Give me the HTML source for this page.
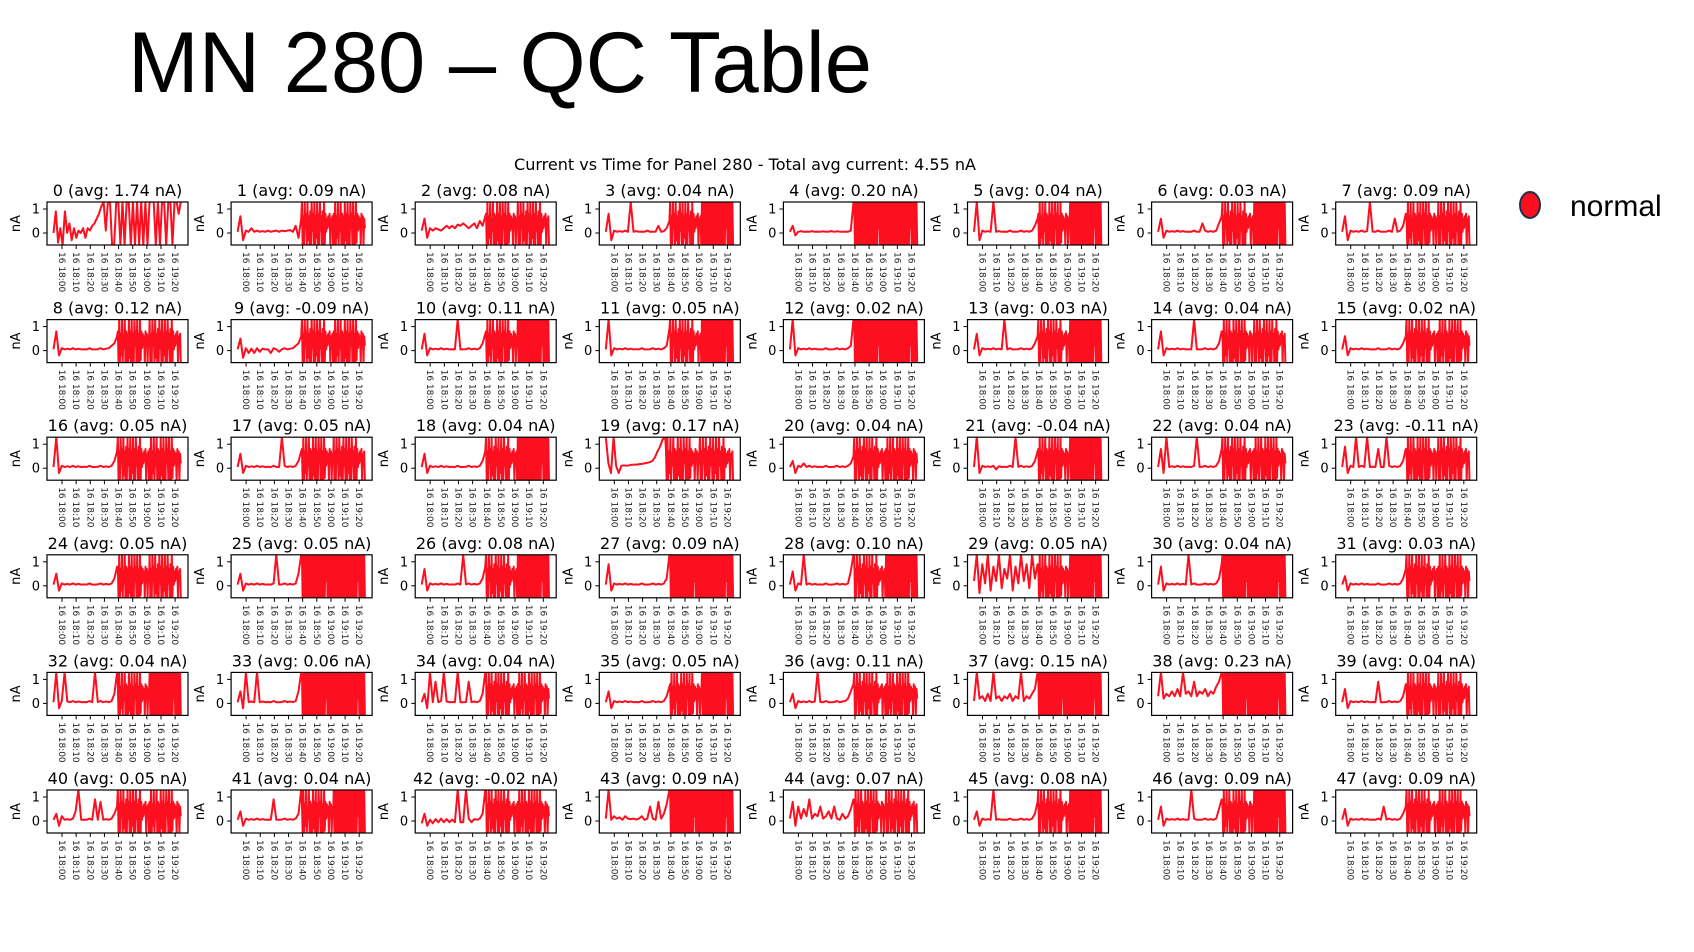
<!DOCTYPE html>
<html><head><meta charset="utf-8"><style>
html,body{margin:0;padding:0;background:#fff;width:1694px;height:952px;overflow:hidden}
svg{display:block}
</style></head><body>
<svg id="chart" width="1694" height="952" xmlns="http://www.w3.org/2000/svg">
<text x="128" y="92" font-family="Liberation Sans, sans-serif" font-size="86" textLength="744" lengthAdjust="spacingAndGlyphs">MN 280 – QC Table</text>
<text x="745" y="170" text-anchor="middle" font-family="DejaVu Sans, sans-serif" font-size="16" textLength="462" lengthAdjust="spacingAndGlyphs">Current vs Time for Panel 280 - Total avg current: 4.55 nA</text>
<g>
<ellipse cx="1530" cy="205" rx="10" ry="13" fill="#fc0f1f" stroke="#1f3050" stroke-width="2"/>
<text x="1570" y="216" font-family="Liberation Sans, sans-serif" font-size="30">normal</text>
</g>
<g id="panels"></g>
</svg>
<script>
const avgs = ["1.74","0.09","0.08","0.04","0.20","0.04","0.03","0.09","0.12","-0.09","0.11","0.05","0.02","0.03","0.04","0.02","0.05","0.05","0.04","0.17","0.04","-0.04","0.04","-0.11","0.05","0.05","0.08","0.09","0.10","0.05","0.04","0.03","0.04","0.06","0.04","0.05","0.11","0.15","0.23","0.04","0.05","0.04","-0.02","0.09","0.07","0.08","0.09","0.09"];
const tickLabels = ["16 18:00","16 18:10","16 18:20","16 18:30","16 18:40","16 18:50","16 19:00","16 19:10","16 19:20"];
const tickMinutes = [0,10,20,30,40,50,60,70,80];
const yTicks = [1,0];
const tStart = -6, tSwitch = 39, tEnd = 84;
const baseline = [
"0,0.9,-0.4,0.2,-0.5,0.9,0,0.4,-0.3,0.2,-0.2,0.1,0,0.2,-0.2,0.2,0.1,0.3,0.4,0.6,0.8,1.1,1.3,0.1",
"0.05,0.7,-0.3,0.1,0.05,0.2,0.05,0.1,0.05,0.08,0.05,0.1,0.05,0.08,0.1,0.05,0.1,0.08,0.1,0.12,0.05,0.3,-0.2,0.6",
"0.1,0.6,-0.2,0.2,0.1,0.2,0.15,0.1,0.2,0.3,0.2,0.3,0.2,0.35,0.3,0.4,0.3,0.2,0.3,0.4,0.2,0.5,0.3,0.7",
"0.05,0.8,-0.3,0.1,0.05,0.08,0.05,0.1,0.05,1.3,0.05,0.08,0.05,0.06,0.05,0.1,0.05,0.05,0.06,0.3,0.05,0.08,0.2,0.5",
"0.05,0.3,-0.1,0.05,0.08,0.05,0.06,0.05,0.08,0.05,0.06,0.05,0.07,0.05,0.06,0.08,0.05,0.07,0.06,0.05,0.06,0.05,0.1,1.3",
"0.05,1.3,-0.3,0.1,0.05,0.08,0.05,1.3,0.05,0.08,0.05,0.06,0.05,0.1,0.05,0.05,0.06,0.1,0.05,0.08,0.05,0.1,0.3,0.6",
"0.05,0.6,-0.2,0.1,0.05,0.08,0.05,0.1,0.05,0.08,0.05,0.06,0.05,0.1,0.05,0.05,0.4,0.1,0.05,0.08,0.05,0.1,0.4,0.7",
"0.05,0.7,-0.3,0.1,0.05,0.08,0.05,0.1,0.05,0.08,1.3,0.06,0.05,0.1,0.05,0.05,0.06,0.1,0.05,0.6,0.05,0.1,0.3,0.8",
"0.05,0.8,-0.2,0.1,0.05,0.08,0.05,0.1,0.05,0.08,0.05,0.06,0.05,0.1,0.05,0.05,0.06,0.1,0.05,0.08,0.1,0.2,0.3,0.6",
"0.05,0.5,-0.3,0.1,-0.1,0.08,-0.1,0.1,-0.05,0.08,0.05,0.06,-0.1,0.1,0.05,-0.05,0.06,0.1,0.05,0.08,0.1,0.2,0.3,0.6",
"0.05,0.7,-0.2,0.1,0.05,0.08,0.05,0.1,0.05,0.08,0.05,0.06,0.05,1.3,0.05,0.05,0.06,0.1,0.05,0.08,0.05,0.1,0.3,0.7",
"0.05,1.3,-0.2,0.1,0.05,0.08,0.05,0.1,0.05,0.08,0.05,0.06,0.05,0.1,0.05,0.05,0.06,0.1,0.05,0.08,0.05,0.1,0.2,0.9",
"0.05,1.3,-0.2,0.1,0.05,0.08,0.05,0.1,0.05,0.08,0.05,0.06,0.05,0.1,0.05,0.05,0.06,0.1,0.05,0.08,0.05,0.1,0.2,1.3",
"0.05,0.7,-0.2,0.1,0.05,0.08,0.05,0.1,0.05,0.08,0.05,1.3,0.05,0.1,0.05,0.05,0.06,0.1,0.05,0.08,0.05,0.1,0.3,0.6",
"0.05,0.8,-0.2,0.1,0.05,0.08,0.05,0.1,0.05,0.08,0.05,0.06,0.05,1.3,0.05,0.05,0.06,0.1,0.05,0.08,0.05,0.1,0.3,0.8",
"0.05,0.6,-0.2,0.1,0.05,0.08,0.05,0.1,0.05,0.08,0.05,0.06,0.05,0.1,0.05,0.05,0.06,0.1,0.05,0.08,0.05,0.1,0.3,0.6",
"0.05,1.3,-0.2,0.1,0.05,0.08,0.05,0.1,0.05,0.08,0.05,0.06,0.05,0.1,0.05,0.05,0.06,0.1,0.05,0.08,0.05,0.1,0.3,0.7",
"0.05,0.6,-0.2,0.1,0.05,0.08,0.05,0.1,0.05,0.08,0.05,0.06,0.05,0.1,0.05,0.05,1.3,0.1,0.05,0.08,0.05,0.1,0.3,0.7",
"0.05,0.6,-0.2,0.1,0.05,0.08,0.05,0.1,0.05,0.08,0.05,0.06,0.05,0.1,0.05,0.05,0.06,0.1,0.05,0.08,0.05,0.1,0.3,0.7",
"1.3,0.2,-0.2,1.3,0.1,-0.2,0.1,0.12,0.1,0.12,0.14,0.15,0.15,0.17,0.18,0.2,0.22,0.25,0.3,0.45,0.7,0.9,1.2,1.3",
"0.05,0.3,-0.2,0.1,0.05,0.2,0.05,0.1,0.05,0.08,0.05,0.06,0.05,0.1,0.05,0.05,0.06,0.1,0.05,0.08,0.05,0.1,0.2,0.5",
"0.05,1.3,-0.2,0.1,0.05,0.08,0.05,0.1,-0.05,0.08,0.05,0.06,0.05,0.1,0.05,1.3,0.06,0.1,0.05,0.08,0.05,0.1,0.3,0.7",
"0.05,0.8,-0.2,1.3,0.05,0.08,0.05,0.1,0.05,0.08,0.05,0.06,0.05,0.1,1.3,0.05,0.06,0.1,0.05,0.08,0.05,0.1,0.3,0.8",
"0.05,0.9,-0.2,0.1,0.05,1.3,0.05,0.1,0.05,1.3,0.05,0.06,0.05,0.8,0.05,0.05,1.3,0.1,0.05,0.08,0.05,0.1,0.3,0.8",
"0.05,0.5,-0.2,0.1,0.05,0.08,0.05,0.1,0.05,0.08,0.05,0.06,0.05,0.1,0.05,0.05,0.06,0.1,0.05,0.08,0.05,0.1,0.3,0.8",
"0.05,0.5,-0.2,0.1,0.05,0.08,0.05,0.1,0.05,0.08,0.05,0.06,0.05,0.1,1.3,0.05,0.06,0.1,0.05,0.08,0.05,0.1,0.5,1.3",
"0.05,0.7,-0.2,0.1,0.05,0.08,0.05,0.1,0.05,0.08,0.05,0.06,0.05,0.1,0.05,1.3,0.06,0.1,0.05,0.08,0.05,0.1,0.3,0.8",
"0.05,0.9,-0.2,0.1,0.05,0.08,0.05,0.1,0.05,0.08,0.05,0.06,0.05,0.1,0.05,0.05,0.06,0.1,0.05,0.08,0.05,0.1,0.3,1.3",
"0.05,0.6,-0.2,0.1,0.05,1.3,0.05,0.1,0.05,0.08,0.05,0.06,0.05,0.1,0.05,0.05,0.06,0.1,0.05,0.08,0.05,0.1,0.6,1.3",
"0.2,1.3,-0.3,0.9,0.1,1.3,-0.2,0.8,0.2,1.3,-0.1,0.7,0.3,1.3,-0.2,0.8,0.1,1.3,0.2,0.9,-0.1,1.3,0.3,0.9",
"0.05,0.8,-0.2,0.1,0.05,0.08,0.05,0.1,0.05,0.08,0.05,1.3,0.05,0.1,0.05,0.05,0.06,0.1,0.05,0.08,0.05,0.1,0.3,0.9",
"0.05,0.4,-0.2,0.1,0.05,0.08,0.05,0.1,0.05,0.08,0.05,0.06,0.05,0.1,0.05,0.05,0.06,0.1,0.05,0.08,0.05,0.1,0.3,0.7",
"0.05,1.3,-0.2,0.1,1.3,0.08,0.05,0.1,0.05,0.08,0.05,0.06,0.05,0.1,0.05,1.3,0.06,0.1,0.05,0.08,0.05,0.1,0.4,1.3",
"0.05,0.5,-0.2,1.3,0.05,0.08,0.05,1.3,0.05,0.08,0.05,0.06,0.05,0.1,0.05,0.05,0.06,0.1,0.05,0.08,0.05,0.1,0.5,1.3",
"0.05,0.4,-0.2,1.3,0.05,0.9,0.05,0.1,1.3,0.08,0.05,0.06,0.05,1.3,0.05,0.05,0.06,0.9,0.05,0.08,0.05,0.1,0.4,1.3",
"0.05,0.5,-0.2,0.1,0.05,0.08,0.05,0.1,0.05,0.08,0.05,0.06,0.05,0.1,0.05,0.05,0.06,0.1,0.05,0.08,0.05,0.1,0.3,0.7",
"0.05,0.4,-0.2,0.1,0.05,0.08,0.05,0.1,0.05,0.08,1.3,0.06,0.05,0.1,0.05,0.05,0.06,0.1,0.05,0.08,0.1,0.2,0.5,0.8",
"0.1,1.3,0.2,0.3,0.1,0.4,0.1,1.3,0.2,0.3,0.1,0.3,0.2,0.4,0.1,0.3,0.2,1.3,0.1,0.3,0.2,0.4,0.6,1.3",
"0.3,1.3,0.2,0.4,0.3,0.5,0.3,0.6,0.3,1.3,0.4,0.5,0.3,0.9,0.3,0.5,0.4,0.6,0.3,0.5,0.4,0.7,0.9,1.3",
"0.05,0.6,-0.2,0.1,0.05,0.08,0.05,0.1,0.05,0.08,0.05,0.06,0.05,0.9,0.05,0.05,0.06,0.1,0.05,0.08,0.05,0.1,0.3,0.8",
"0.05,0.3,-0.2,0.2,0.05,0.08,0.05,0.1,0.4,1.3,0.05,0.06,0.05,0.1,0.05,0.9,0.05,0.8,0.05,0.08,0.05,0.1,0.3,0.6",
"0.05,0.4,-0.2,0.1,0.05,0.08,0.05,0.1,0.05,0.08,0.05,0.06,0.05,0.9,0.05,0.05,0.06,0.1,0.05,0.08,0.05,0.1,0.3,1.3",
"-0.1,0.3,-0.2,0.05,-0.1,0.08,-0.05,0.1,-0.05,0.08,-0.05,0.06,-0.05,1.3,-0.05,-0.05,1.3,0.1,-0.05,0.08,0.05,0.1,0.3,1.3",
"0.1,1.3,0.05,0.2,0.1,0.15,0.05,0.2,0.1,0.08,0.1,0.06,0.1,0.2,0.05,0.1,0.6,0.1,0.05,0.8,0.1,0.3,0.7,1.3",
"0.1,0.8,-0.2,0.6,0.1,0.5,0.2,0.9,0.1,0.3,0.2,0.6,0.1,0.2,0.4,0.1,0.6,0.1,0.05,0.3,0.1,0.2,0.5,0.9",
"0.05,0.4,-0.2,0.1,0.05,0.08,0.05,1.3,0.05,0.08,0.05,0.06,0.05,0.1,0.05,0.05,0.06,0.1,0.05,0.08,0.05,0.1,0.3,0.8",
"0.05,0.6,-0.2,0.1,0.05,0.08,0.05,0.1,0.05,0.08,0.05,0.06,1.3,0.1,0.05,0.05,0.06,0.1,0.05,0.08,0.05,0.1,0.5,0.9",
"0.05,0.5,-0.2,0.1,0.05,0.08,0.05,0.1,0.05,0.08,0.05,0.06,0.05,0.1,0.05,0.6,0.06,0.1,0.05,0.08,0.05,0.1,0.3,0.6"
];
const noiseA = "1.3,-0.5,0.7,-0.5,1.3,0.2,0.8,-0.5,1.3,-0.3,0.7,-0.5,0.9,-0.5,1.3,0.1,0.8,-0.5,1.3,-0.5,0.7,-0.2,1.3,-0.5,0.8,-0.5,1.3,0.1,0.7,-0.5,0.9,-0.5,1.3,-0.5,0.8,0.05,0.6,0.2,0.7,0.3,0.8,-0.5,0.6,0.3,0.7,-0.5";
const noiseB = "0.8,-0.5,1.3,-0.5,0.7,-0.2,1.3,-0.5,0.6,0.1,1.3,-0.5,0.8,-0.5,0.7,-0.5,1.3,-0.3,0.8,-0.5,1.3,-0.5,0.7,-0.5,1.3,0.2,0.8,-0.5,1.3,-0.5,0.7,-0.5,1.3,-0.4,0.8,0.1,0.7,0.2,0.6,-0.5,0.8,0.3,0.7,-0.5,0.6,0.2";
const noiseC = "1.3,-0.5,1.3,-0.5,1.3,-0.5,1.3,-0.5,1.3,-0.5,1.3,-0.5,1.3,-0.5,1.3,-0.5,1.3,-0.5,1.3,-0.5,1.3,-0.5,1.3,-0.5,1.3,-0.5,1.3,-0.5,1.3,-0.5,1.3,-0.5,1.3,-0.5,1.3,0.2,1.3,-0.5,1.3,-0.5,1.3,-0.5,1.3,-0.5,1.3,-0.5";
const noise0 = "1.3,1.3,-0.5,-0.5,1.3,1.3,-0.5,1.3,-0.5,1.3,1.3,-0.5,1.3,-0.5,1.3,-0.5,1.3,-0.5,1.3,-0.5,1.3,1.3,1.3,-0.5,1.3,-0.5,1.3,1.3,-0.5,1.3,1.3,-0.5,1.3,1.3,0.8,1.3";
const noise = [
noise0,
noiseA+','+noiseB,noiseB+','+noiseA,noiseA+','+noiseC,noiseC+','+noiseC,noiseB+','+noiseC,noiseA+','+noiseC,noiseB+','+noiseA,
noiseB+','+noiseA,noiseA+','+noiseB,noiseB+','+noiseC,noiseA+','+noiseC,noiseC+','+noiseC,noiseA+','+noiseC,noiseB+','+noiseA,noiseA+','+noiseB,
noiseA+','+noiseB,noiseB+','+noiseA,noiseA+','+noiseC,noiseB+','+noiseA,noiseA+','+noiseB,noiseB+','+noiseC,noiseA+','+noiseB,noiseB+','+noiseA,
noiseB+','+noiseA,noiseC+','+noiseC,noiseA+','+noiseC,noiseC+','+noiseC,noiseA+','+noiseC,noiseB+','+noiseC,noiseC+','+noiseC,noiseA+','+noiseB,
noiseB+','+noiseC,noiseC+','+noiseC,noiseA+','+noiseB,noiseB+','+noiseC,noiseA+','+noiseB,noiseC+','+noiseC,noiseC+','+noiseC,noiseB+','+noiseA,
noiseA+','+noiseB,noiseB+','+noiseC,noiseA+','+noiseB,noiseC+','+noiseC,noiseB+','+noiseA,noiseA+','+noiseC,noiseB+','+noiseC,noiseA+','+noiseB
];
const NS = "http://www.w3.org/2000/svg";
const root = document.getElementById('panels');
const W = 141, H = 43, colPitch = 184.1, rowPitch = 117.6;
function mk(tag, attrs, parent){const e=document.createElementNS(NS,tag);for(const k in attrs)e.setAttribute(k,attrs[k]);parent.appendChild(e);return e;}
for(let p=0;p<48;p++){
  const col=p%8,row=Math.floor(p/8);
  const x0=47+col*colPitch,y0=202+row*rowPitch;
  const xs=t=>x0+15+t*1.414;
  const ys=v=>y0+31-v*24;
  const g=mk('g',{},root);
  
  
  const cp=mk('clipPath',{id:'cp'+p},g);
  mk('rect',{x:x0,y:y0,width:W,height:H},cp);
  const bv=baseline[p].split(',').map(Number);
  const nv=noise[p].split(',').map(Number);
  const tSw = p===0 ? 31 : (p===19 ? 36 : tSwitch);
  let d='';
  bv.forEach((v,i)=>{const t=tStart+(tSw-tStart)*i/(bv.length-1);d+=(i?'L':'M')+xs(t).toFixed(1)+','+ys(v).toFixed(1);});
  nv.forEach((v,i)=>{const t=tSw+(tEnd-tSw)*(i+1)/nv.length;d+='L'+xs(t).toFixed(2)+','+ys(v).toFixed(1);});
  const line=mk('path',{d:d,fill:'none',stroke:'#fc0f1f','stroke-width':2,'stroke-linejoin':'round','clip-path':'url(#cp'+p+')'},g);
  
  
  const box=mk('rect',{x:x0,y:y0,width:W,height:H,fill:'none',stroke:'#000','stroke-width':1.2},g);
  
  
  const title=mk('text',{x:x0+W/2,y:y0-6,'text-anchor':'middle','font-family':'DejaVu Sans, sans-serif','font-size':16},g);
  title.textContent=p+' (avg: '+avgs[p]+' nA)';
  
  
  yTicks.forEach(v=>{
    mk('line',{x1:x0-4,x2:x0,y1:ys(v),y2:ys(v),stroke:'#000'},g);
    const tl=mk('text',{x:x0-7,y:ys(v)+4.5,'text-anchor':'end','font-family':'DejaVu Sans, sans-serif','font-size':13},g);
    tl.textContent=v;
    
    
  });
  const yl=mk('text',{x:0,y:0,transform:'translate('+(x0-27)+','+(y0+H/2)+') rotate(-90)','text-anchor':'middle','font-family':'DejaVu Sans, sans-serif','font-size':13},g);
  yl.textContent='nA';
  
  
  tickMinutes.forEach((m,i)=>{
    const tx=xs(m);
    mk('line',{x1:tx,x2:tx,y1:y0+H,y2:y0+H+4,stroke:'#000'},g);
    const tl=mk('text',{x:0,y:0,transform:'translate('+(tx-3)+','+(y0+H+7)+') rotate(90)','font-family':'DejaVu Sans, sans-serif','font-size':9,fill:'#222'},g);
    tl.textContent=tickLabels[i];
    
    
  });
}
</script>
</body></html>
